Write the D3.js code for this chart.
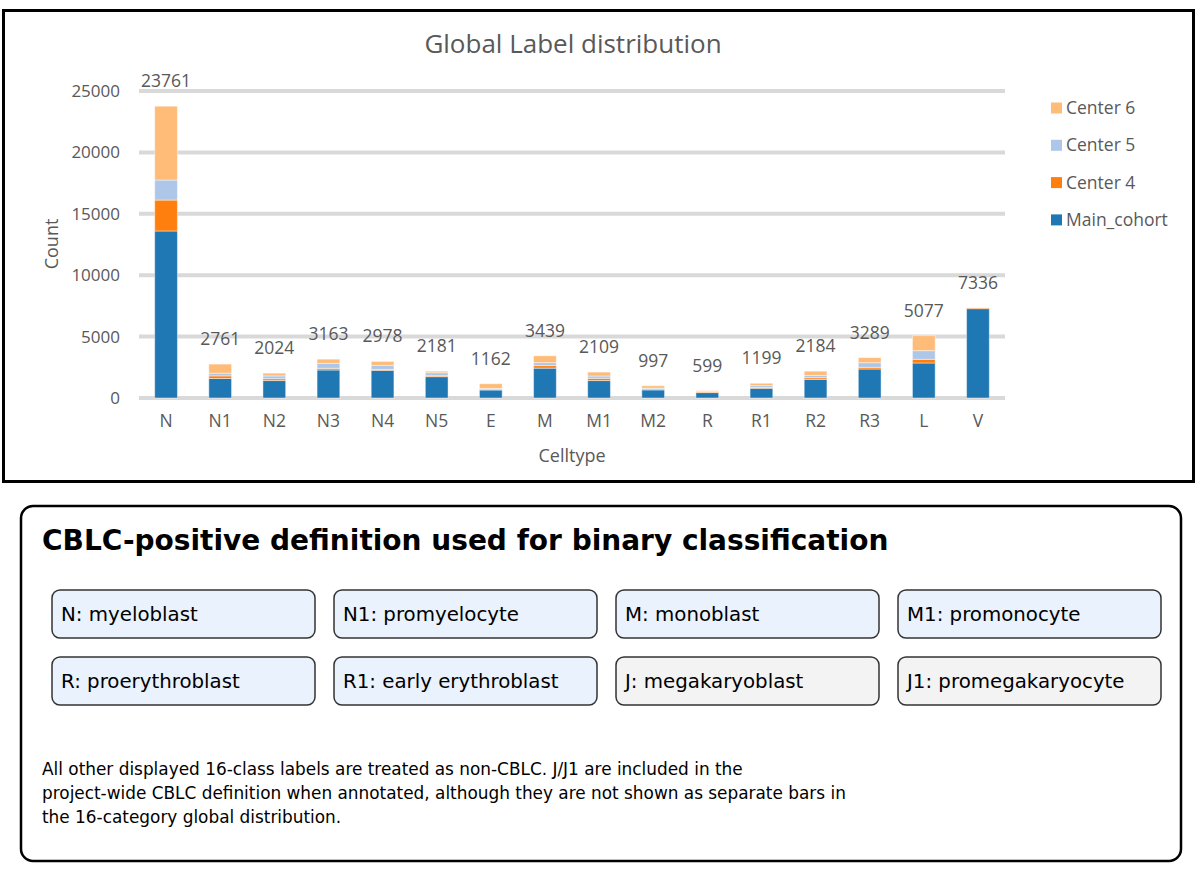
<!DOCTYPE html>
<html>
<head>
<meta charset="utf-8">
<script src="https://cdn.jsdelivr.net/npm/d3@7/dist/d3.min.js"></script>
<style>
    html, body { margin: 0; padding: 0; background: #fff; }
    svg { display: block; }
    .chart-text { font-family: "Open Sans", "Liberation Sans", sans-serif; fill: #595959; }
    .panel-text { font-family: "DejaVu Sans", sans-serif; fill: #000; }
</style>
</head>
<body>
<div id="chart"></div>
<script>
// ===== Data =====
const categories = ['N', 'N1', 'N2', 'N3', 'N4', 'N5', 'E', 'M', 'M1', 'M2', 'R', 'R1', 'R2', 'R3', 'L', 'V'];
const seriesNames = ['Main_cohort', 'Center 4', 'Center 5', 'Center 6'];
const mainCohort = [13600, 1590, 1420, 2280, 2250, 1737, 650, 2430, 1420, 660, 440, 790, 1520, 2360, 2850, 7276];
const center4 = [2520, 210, 150, 136, 80, 80, 60, 210, 180, 80, 60, 60, 135, 136, 300, 60];
const center5 = [1630, 220, 230, 407, 325, 244, 70, 240, 190, 60, 30, 160, 190, 380, 706, 0];
const center6 = [6011, 741, 224, 340, 323, 120, 382, 559, 319, 197, 69, 189, 339, 413, 1221, 0];
const yTicks = [0, 5000, 10000, 15000, 20000, 25000];

const defLabels = [
    'N: myeloblast', 'N1: promyelocyte', 'M: monoblast', 'M1: promonocyte',
    'R: proerythroblast', 'R1: early erythroblast', 'J: megakaryoblast', 'J1: promegakaryocyte'
];
const defInChart = [true, true, true, true, true, true, false, false];
const footnoteLines = [
    'All other displayed 16-class labels are treated as non-CBLC. J/J1 are included in the',
    'project-wide CBLC definition when annotated, although they are not shown as separate bars in',
    'the 16-category global distribution.'
];

// ===== Config =====
const CONFIG = {
    width: 1200,
    height: 890,
    colors: {
        'Main_cohort': '#1f77b4',
        'Center 4': '#ff7f0e',
        'Center 5': '#aec7e8',
        'Center 6': '#ffbb78'
    },
    plot: { left: 139, right: 1005, top: 91, bottom: 398 }
};

const svg = d3.select('#chart').append('svg')
    .attr('width', CONFIG.width)
    .attr('height', CONFIG.height);

// ===== Top chart =====
function drawChart() {
    const p = CONFIG.plot;

    svg.append('rect')
        .attr('x', 3.5).attr('y', 10.5)
        .attr('width', 1190).attr('height', 471)
        .attr('fill', '#fff')
        .attr('stroke', '#000')
        .attr('stroke-width', 3);

    const rows = categories.map((c, i) => ({
        cat: c,
        'Main_cohort': mainCohort[i],
        'Center 4': center4[i],
        'Center 5': center5[i],
        'Center 6': center6[i]
    }));

    const x = d3.scaleBand()
        .domain(categories)
        .range([p.left, p.right])
        .paddingInner(0.58)
        .paddingOuter(0.29);

    const y = d3.scaleLinear()
        .domain([0, 25000])
        .range([p.bottom, p.top]);

    // Gridlines
    svg.append('g')
        .selectAll('line')
        .data(yTicks)
        .enter()
        .append('line')
        .attr('x1', p.left).attr('x2', p.right)
        .attr('y1', d => y(d)).attr('y2', d => y(d))
        .attr('stroke', '#d9d9d9')
        .attr('stroke-width', 4);

    // Y axis labels
    const yAxis = svg.append('g')
        .attr('transform', `translate(${p.left - 19},0)`)
        .call(d3.axisLeft(y).tickValues(yTicks).tickFormat(d3.format('d')).tickSize(0).tickPadding(0));
    yAxis.select('.domain').remove();
    yAxis.selectAll('text')
        .attr('class', 'chart-text')
        .style('font-size', '17px')
        .attr('fill', '#595959');

    // Stacked bars
    const stack = d3.stack().keys(seriesNames)(rows);
    svg.append('g')
        .selectAll('g')
        .data(stack)
        .enter()
        .append('g')
        .attr('fill', d => CONFIG.colors[d.key])
        .selectAll('rect')
        .data(d => d)
        .enter()
        .append('rect')
        .attr('x', d => x(d.data.cat))
        .attr('y', d => y(d[1]))
        .attr('width', x.bandwidth())
        .attr('height', d => Math.max(0, y(d[0]) - y(d[1])))
        .attr('stroke', 'rgba(255,255,255,0.45)')
        .attr('stroke-width', 1);

    // Total labels
    svg.append('g')
        .selectAll('text')
        .data(rows)
        .enter()
        .append('text')
        .attr('class', 'chart-text')
        .attr('x', d => x(d.cat) + x.bandwidth() / 2)
        .attr('y', d => y(d3.sum(seriesNames, k => d[k])) - 19)
        .attr('text-anchor', 'middle')
        .style('font-size', '17.5px')
        .attr('fill', '#404040')
        .text(d => d3.sum(seriesNames, k => d[k]));

    // X axis labels
    const xAxis = svg.append('g')
        .attr('transform', `translate(0,${p.bottom + 17})`)
        .call(d3.axisBottom(x).tickSize(0).tickPadding(0));
    xAxis.select('.domain').remove();
    xAxis.selectAll('text')
        .attr('class', 'chart-text')
        .attr('dy', '0.71em')
        .style('font-size', '17.5px')
        .attr('fill', '#595959');

    // Titles
    svg.append('text')
        .attr('class', 'chart-text')
        .attr('x', 573).attr('y', 53)
        .attr('text-anchor', 'middle')
        .style('font-size', '26px')
        .text('Global Label distribution');

    svg.append('text')
        .attr('class', 'chart-text')
        .attr('x', 572).attr('y', 462)
        .attr('text-anchor', 'middle')
        .style('font-size', '18px')
        .attr('fill', '#404040')
        .text('Celltype');

    svg.append('text')
        .attr('class', 'chart-text')
        .attr('transform', 'translate(58,244) rotate(-90)')
        .attr('text-anchor', 'middle')
        .style('font-size', '18px')
        .attr('fill', '#404040')
        .text('Count');

    // Legend (top to bottom reversed order)
    const legendItems = seriesNames.slice().reverse();
    const legend = svg.append('g')
        .selectAll('g')
        .data(legendItems)
        .enter()
        .append('g')
        .attr('transform', (d, i) => `translate(1051,${108 + i * 37.3})`);
    legend.append('rect')
        .attr('x', 0).attr('y', -5.5)
        .attr('width', 11).attr('height', 11)
        .attr('fill', d => CONFIG.colors[d]);
    legend.append('text')
        .attr('class', 'chart-text')
        .attr('x', 15).attr('y', 0)
        .attr('dy', '0.35em')
        .style('font-size', '17.5px')
        .text(d => d);
}

// ===== Bottom panel =====
function drawPanel() {
    svg.append('rect')
        .attr('x', 21).attr('y', 506)
        .attr('width', 1160).attr('height', 355)
        .attr('rx', 12)
        .attr('fill', '#fff')
        .attr('stroke', '#000')
        .attr('stroke-width', 2.5);

    svg.append('text')
        .attr('class', 'panel-text')
        .attr('x', 42).attr('y', 550)
        .style('font-size', '28px')
        .style('font-weight', 'bold')
        .text('CBLC-positive definition used for binary classification');

    const boxes = svg.append('g')
        .selectAll('g')
        .data(defLabels)
        .enter()
        .append('g')
        .attr('transform', (d, i) => `translate(${52 + (i % 4) * 282},${590 + Math.floor(i / 4) * 67})`);
    boxes.append('rect')
        .attr('width', 263).attr('height', 48)
        .attr('rx', 8)
        .attr('fill', (d, i) => defInChart[i] ? '#eaf2fd' : '#f3f3f3')
        .attr('stroke', '#333')
        .attr('stroke-width', 1.5);
    boxes.append('text')
        .attr('class', 'panel-text')
        .attr('x', 9).attr('y', 24)
        .attr('dy', '0.35em')
        .style('font-size', '19.8px')
        .text(d => d);

    svg.append('g')
        .selectAll('text')
        .data(footnoteLines)
        .enter()
        .append('text')
        .attr('class', 'panel-text')
        .attr('x', 42)
        .attr('y', (d, i) => 775 + i * 24)
        .style('font-size', '16.9px')
        .text(d => d);
}

drawChart();
drawPanel();
</script>
</body>
</html>
